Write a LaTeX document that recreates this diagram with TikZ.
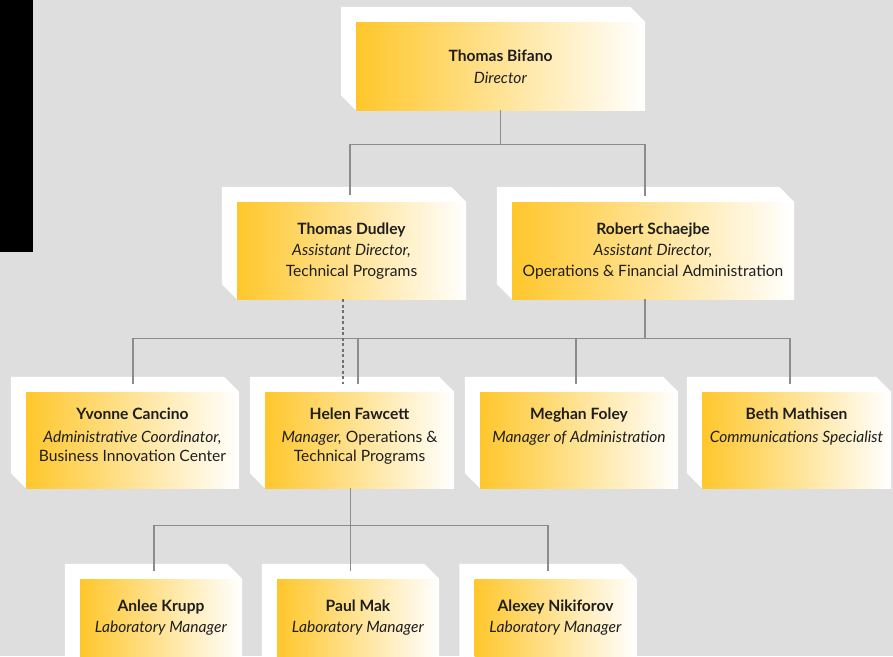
\documentclass[tikz,border=0pt]{standalone}
\usepackage{fontspec}
\setmainfont{Lato}
\usetikzlibrary{calc}
\usetikzlibrary{backgrounds}

\definecolor{bggray}{HTML}{DEDEDE}
\definecolor{wiregray}{HTML}{8C8C8C}
\definecolor{cardyellow}{HTML}{FFC72C}
\definecolor{inkblack}{HTML}{1E1E1E}

\tikzset{
    card/.style={rectangle,inner sep=0pt,left color=cardyellow,right color=white},
    who/.style={anchor=north,align=center,inner sep=0pt,text=inkblack,
        font=\fontsize{15.6}{21}\selectfont},
    wire/.style={draw=wiregray,line width=1.4pt},
    dashwire/.style={wire,draw=wiregray!80!black,dash pattern=on 3pt off 2.5pt},
}

% white block behind a card
\newcommand{\cardslab}[1]{%
    \fill[white] ($(#1.north west)+(-15,-15)$) -- ($(#1.north east)+(-15,-15)$)
        -- (#1.north east) -- (#1.south west) -- ($(#1.south west)+(-15,-15)$) -- cycle;}

\begin{document}
\begin{tikzpicture}[x=1pt,y=-1pt]
    \useasboundingbox (0,0) rectangle (893,656);
    \begin{scope}[on background layer]
        \fill[bggray] (0,0) rectangle (893,656);
        \fill[black] (0,0) rectangle (33,252);
    \end{scope}

    % cards
    \node[card,minimum width=289pt,minimum height=88pt] (bifano) at (500.5,66) {};
    \node[card,minimum width=229pt,minimum height=97pt] (dudley) at (351.5,250.5) {};
    \node[card,minimum width=282pt,minimum height=97pt] (schaejbe) at (653,250.5) {};
    \node[card,minimum width=213pt,minimum height=96pt] (cancino) at (132.5,440) {};
    \node[card,minimum width=189pt,minimum height=96pt] (fawcett) at (359.5,440) {};
    \node[card,minimum width=198pt,minimum height=96pt] (foley) at (579,440) {};
    \node[card,minimum width=189pt,minimum height=96pt] (mathisen) at (796.5,440) {};
    \node[card,minimum width=162pt,minimum height=96pt] (krupp) at (161,627) {};
    \node[card,minimum width=162pt,minimum height=96pt] (mak) at (358,627) {};
    \node[card,minimum width=162pt,minimum height=96pt] (nikiforov) at (555.5,627) {};

    \begin{scope}[on background layer]
        \cardslab{bifano}
        \cardslab{dudley}
        \cardslab{schaejbe}
        \cardslab{cancino}
        \cardslab{fawcett}
        \cardslab{foley}
        \cardslab{mathisen}
        \cardslab{krupp}
        \cardslab{mak}
        \cardslab{nikiforov}
    \end{scope}

    % names and titles
    \node[who] (bifano-t) at ($(bifano.north)+(0,24.3)$) {\strut\textbf{Thomas Bifano}\\[1pt]\textit{Director}};
    \node[who] (dudley-t) at ($(dudley.north)+(0,17.3)$) {\strut\textbf{Thomas Dudley}\\\textit{Assistant Director,}\\Technical Programs};
    \node[who] (schaejbe-t) at ($(schaejbe.north)+(0,17.3)$) {\strut\textbf{Robert Schaejbe}\\\textit{Assistant Director,}\\Operations \& Financial Administration};
    \node[who] (cancino-t) at ($(cancino.north)+(0,12.3)$) {\strut\textbf{Yvonne Cancino}\\[2pt]\textit{Administrative Coordinator,}\\[-2pt]Business Innovation Center};
    \node[who] (fawcett-t) at ($(fawcett.north)+(0,12.3)$) {\strut\textbf{Helen Fawcett}\\[2pt]\textit{Manager,} Operations \&\\[-2pt]Technical Programs};
    \node[who] (foley-t) at ($(foley.north)+(0,12.3)$) {\strut\textbf{Meghan Foley}\\[2pt]\textit{Manager of Administration}};
    \node[who] (mathisen-t) at ($(mathisen.north)+(0,12.3)$) {\strut\textbf{Beth Mathisen}\\[2pt]\textit{Communications Specialist}};
    \node[who] (krupp-t) at ($(krupp.north)+(0,17.8)$) {\strut\textbf{Anlee Krupp}\\\textit{Laboratory Manager}};
    \node[who] (mak-t) at ($(mak.north)+(0,17.8)$) {\strut\textbf{Paul Mak}\\\textit{Laboratory Manager}};
    \node[who] (nikiforov-t) at ($(nikiforov.north)+(0,17.8)$) {\strut\textbf{Alexey Nikiforov}\\\textit{Laboratory Manager}};

    % connectors
    \coordinate (topbar) at ([yshift=-34pt]bifano.south);
    \draw[wire] (bifano.south) -- (topbar);
    \draw[wire] ([xshift=-1.5pt,yshift=7pt]dudley.north) |- (topbar) -| ([xshift=-8pt,yshift=6pt]schaejbe.north);

    \coordinate (opsbar) at ([xshift=-8pt,yshift=-39pt]schaejbe.south);
    \draw[wire] ([xshift=-8pt]schaejbe.south) -- (opsbar);
    \draw[wire] ([xshift=0.5pt,yshift=8pt]cancino.north) |- (opsbar) -| ([xshift=-6.5pt,yshift=8pt]mathisen.north);
    \draw[wire] ([xshift=-1.5pt,yshift=8pt]fawcett.north) -- ([xshift=-1.5pt]fawcett.north |- opsbar);
    \draw[wire] ([xshift=-3pt,yshift=8pt]foley.north) -- ([xshift=-3pt]foley.north |- opsbar);
    \draw[dashwire] ([xshift=-8.5pt]dudley.south) -- ([xshift=-16.5pt,yshift=8pt]fawcett.north);

    \coordinate (labbar) at ([xshift=-9pt,yshift=-37pt]fawcett.south);
    \draw[wire] ([xshift=-9pt]fawcett.south) -- ([xshift=-7.5pt,yshift=8pt]mak.north);
    \draw[wire] ([xshift=-7pt,yshift=8pt]krupp.north) |- (labbar) -| ([xshift=-7.5pt,yshift=8pt]nikiforov.north);
\end{tikzpicture}
\end{document}
